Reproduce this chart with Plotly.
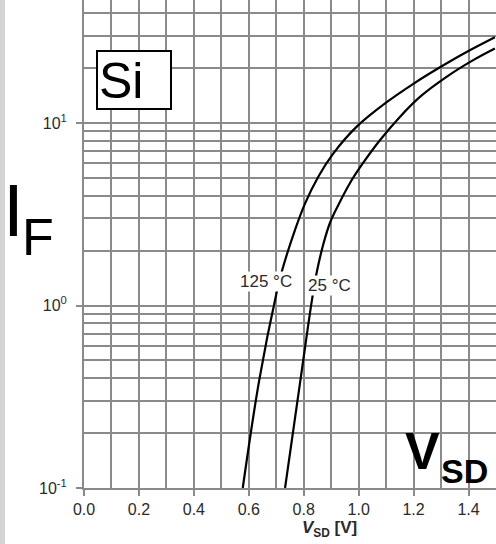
import plotly.graph_objects as go

# Forward characteristic readings (V_SD in V, I_F in A)
v_125 = [0.578, 0.638, 0.701, 0.722, 0.768, 0.805, 0.853, 0.908, 0.993, 1.102, 1.199, 1.296, 1.393, 1.496]
i_125 = [0.1, 0.39, 1.17, 1.57, 2.59, 3.63, 5.08, 6.82, 9.55, 13.0, 16.4, 20.2, 24.5, 29.5]

v_25 = [0.732, 0.789, 0.829, 0.847, 0.871, 0.896, 0.914, 0.968, 1.011, 1.078, 1.150, 1.223, 1.320, 1.417, 1.496]
i_25 = [0.1, 0.40, 1.05, 1.51, 2.16, 2.85, 3.27, 4.68, 5.89, 8.07, 10.8, 13.9, 17.9, 22.1, 25.6]

x_ticks = [0.0, 0.2, 0.4, 0.6, 0.8, 1.0, 1.2, 1.4]
y_ticks = [0.1, 1, 10]
y_labels = ["10<sup>-1</sup>", "10<sup>0</sup>", "10<sup>1</sup>"]

GRID = "#8a8a8a"
TXT = "#2a2a2a"
FONT = "Liberation Sans, Arial, sans-serif"

fig = go.Figure()
for v, i in [(v_125, i_125), (v_25, i_25)]:
    fig.add_trace(go.Scatter(x=v, y=i, mode="lines",
                             line=dict(color="black", width=2.2, shape="spline", smoothing=1.0),
                             showlegend=False, hoverinfo="skip"))

W, H, L, B = 496, 544, 84, 56
PW, PH = W - L, H - B

def px(x):
    return (x - L) / PW

def py(y):
    return 1 - y / PH

fig.update_layout(
    width=W, height=H,
    margin=dict(l=L, r=0, t=0, b=B),
    paper_bgcolor="white", plot_bgcolor="white",
    font=dict(family=FONT, color=TXT),
    xaxis=dict(range=[0, 1.5], tickvals=x_ticks, ticktext=[f"{t:.1f}" for t in x_ticks],
               showgrid=True, gridcolor=GRID, gridwidth=2,
               minor=dict(dtick=0.1, tick0=0, showgrid=True, gridcolor=GRID, gridwidth=2),
               showline=True, linecolor=GRID, linewidth=2,
               ticks="outside", ticklen=6, tickcolor=GRID, tickwidth=2,
               tickfont=dict(size=16, color=TXT, family=FONT), zeroline=False),
    yaxis=dict(type="log", range=[-1, 1.674], tickvals=y_ticks, ticktext=y_labels,
               showgrid=True, gridcolor=GRID, gridwidth=2,
               minor=dict(dtick="D1", showgrid=True, gridcolor=GRID, gridwidth=2),
               showline=True, linecolor=GRID, linewidth=2,
               ticks="outside", ticklen=6, tickcolor=GRID, tickwidth=2,
               ticklabelstandoff=6,
               tickfont=dict(size=16, color=TXT, family=FONT), zeroline=False),
)

# grey scan border at left
fig.add_shape(type="rect", xref="paper", yref="paper", x0=px(0), x1=px(5), y0=-B / PH, y1=1,
              fillcolor="#d4d4d4", line=dict(width=0), layer="above")

# "Si" box
fig.add_shape(type="rect", xref="paper", yref="paper", x0=px(97), x1=px(171), y0=py(109), y1=py(51),
              fillcolor="white", line=dict(color="black", width=2), layer="above")
fig.add_annotation(xref="paper", yref="paper", x=px(97), y=py(81), xanchor="left", yanchor="middle",
                   text="Si", showarrow=False, font=dict(size=50, color="black", family=FONT))

# I_F label
fig.add_annotation(xref="paper", yref="paper", x=px(1), y=py(210), xanchor="left", yanchor="middle",
                   text="I", showarrow=False, font=dict(size=75, color="black", family=FONT))
fig.add_annotation(xref="paper", yref="paper", x=px(20), y=py(237), xanchor="left", yanchor="middle",
                   text="F", showarrow=False, font=dict(size=52, color="black", family=FONT))

# V_SD big label
fig.add_annotation(xref="paper", yref="paper", x=px(403), y=py(451), xanchor="left", yanchor="middle",
                   text="<b>V</b>", showarrow=False, font=dict(size=52, color="black", family=FONT))
fig.add_annotation(xref="paper", yref="paper", x=px(439), y=py(471), xanchor="left", yanchor="middle",
                   text="<b>SD</b>", showarrow=False, font=dict(size=34, color="black", family=FONT))

# curve labels
fig.add_annotation(x=0.6625, y=0.129, text="125 °C", showarrow=False, bgcolor="white",
                   font=dict(size=17, color=TXT, family=FONT), borderpad=0)
fig.add_annotation(x=0.8955, y=0.107, text="25 °C", showarrow=False, bgcolor="white",
                   font=dict(size=17, color=TXT, family=FONT), borderpad=0)

# x axis title
fig.add_annotation(x=0.895, xref="x", yref="paper", y=py(529), yanchor="middle",
                   text="<b><i>V</i><sub>SD</sub> [V]</b>", showarrow=False,
                   font=dict(size=17, color=TXT, family=FONT))

fig.write_html("out.html", config={"displayModeBar": False},
               post_script="document.body.style.margin='0';")
